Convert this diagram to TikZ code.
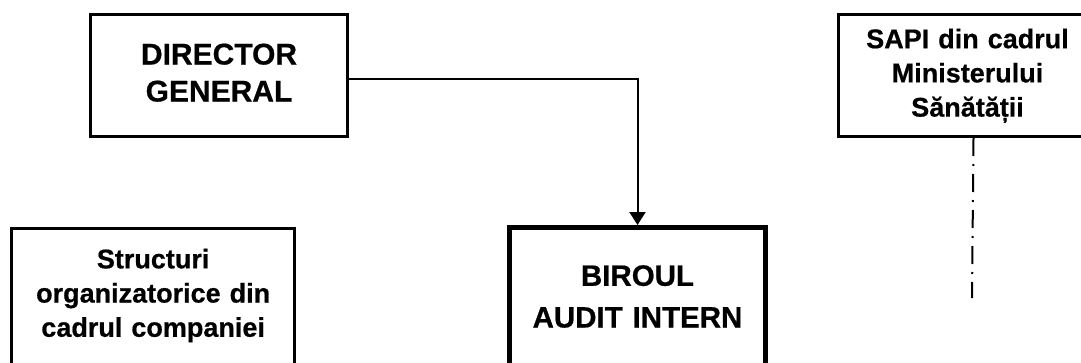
\documentclass[tikz,border=0pt]{standalone}
\usepackage{fontspec}
\setmainfont{Liberation Sans}[BoldFeatures={FakeBold=0.6}]
\usetikzlibrary{arrows.meta}
\begin{document}
\begin{tikzpicture}[x=1pt,y=-1pt,
  box/.style={draw, inner sep=0pt, anchor=north west, align=center,
    text height=20pt},
  bigtext/.style={font=\fontsize{30}{37}\selectfont\bfseries},
  smalltext/.style={font=\fontsize{27}{34.2}\selectfont\bfseries},
  conn/.style={line width=2pt, -{Triangle[width=16pt,length=13pt]}},
  dotline/.style={line width=2pt, dash pattern=on 18pt off 8pt on 2pt off 8pt}]
\useasboundingbox (0,0) rectangle (1081,362);
\clip (0,0) rectangle (1081,362);

% top management
\node[box, bigtext, line width=3pt, minimum width=257pt, minimum height=122pt,
  text width=250pt, text height=22pt, text depth=44pt]
  (dg) at (89,13) {DIRECTOR\\GENERAL};

% external audit unit of the ministry
\node[box, smalltext, line width=3pt, minimum width=258pt, minimum height=122pt,
  text width=250pt, text depth=74.6pt]
  (sapi) at (837,13) {SAPI din cadrul\\Ministerului\\Sănătății};

% company structures
\node[box, smalltext, line width=3.3pt, minimum width=283pt, minimum height=173pt,
  text width=275pt, text depth=113.6pt]
  (struct) at (10,227) {Structuri\\organizatorice din\\cadrul companiei};

% internal audit office
\node[box, font=\fontsize{29.5}{41.7}\selectfont\bfseries, line width=5pt,
  minimum width=256pt, minimum height=175pt,
  text width=250pt, text height=21pt, text depth=79.4pt]
  (bai) at (507,225) {BIROUL\\AUDIT INTERN};

% subordination of the audit office
\draw[conn] ([yshift=-3pt]dg.east) -| (bai.north);

% methodological coordination line
\coordinate (sapiend) at (972,298);
\draw[dotline] ([xshift=6pt]sapi.south) -- (sapiend);
\end{tikzpicture}
\end{document}
